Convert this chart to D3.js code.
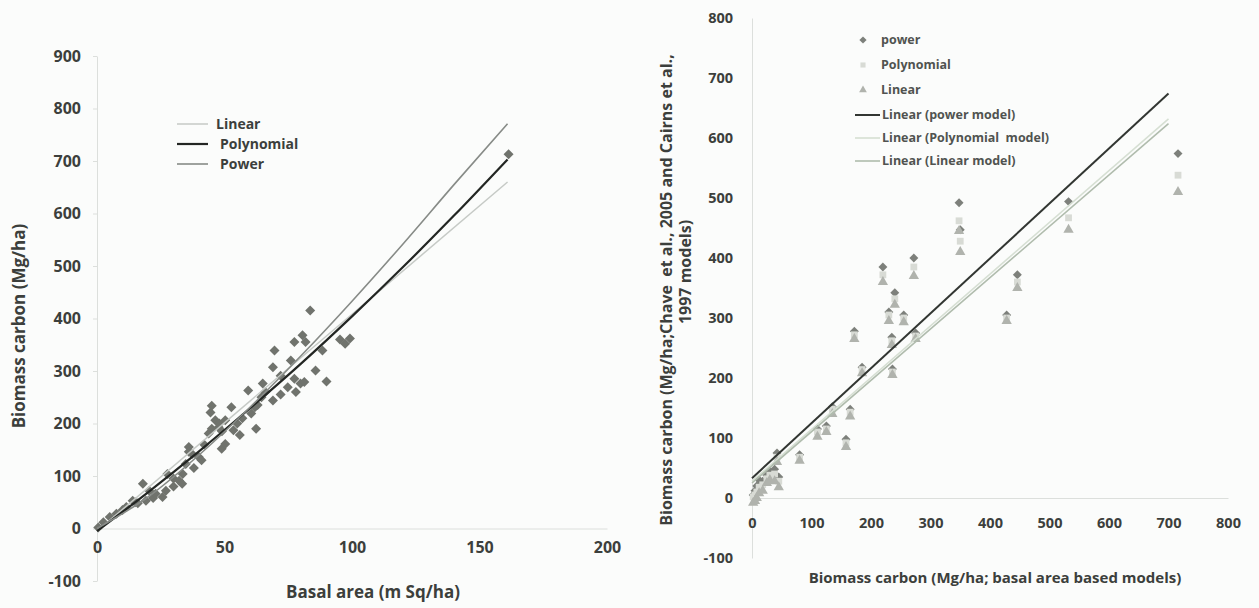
<!DOCTYPE html>
<html>
<head>
<meta charset="utf-8">
<script src="https://cdn.jsdelivr.net/npm/d3@7"></script>
<style>
  body { margin: 0; background: #fbfcfb; }
  text { font-family: "Open Sans", sans-serif; font-weight: 700; fill: #3c3f3c; white-space: pre; }
  .axis path, .axis line { stroke: #dcdfdc; }
</style>
</head>
<body>
<svg id="chart" width="1259" height="608"></svg>
<script>
// left panel: basal area vs biomass carbon
var basalArea = [0.5, 2.5, 5, 7.6, 10, 11.5, 14, 15, 16, 18, 19.2, 20.5, 22, 23, 25.7, 27, 27.6, 30, 30, 32.2,
    33.4, 33.6, 34.8, 36, 36, 37.3, 38, 39.9, 41, 42, 43.8, 44.5, 45, 45, 46.4, 47.7, 48, 48.9, 49, 50.3,
    50.3, 52.7, 53.5, 55, 56, 57, 59.3, 60.5, 61.9, 62.4, 63, 64.5, 65, 66, 69, 69, 69.6, 72, 72, 74.8,
    76, 77.4, 77.4, 78, 79.8, 80.6, 81.3, 81.8, 83.6, 85.7, 88.4, 90, 95.3, 97.3, 99.2, 161.4];
var biomassC = [2, 12, 22, 28, 35, 41, 53, 50, 48, 85, 53, 72, 58, 66, 60, 72, 104, 80, 95, 91,
    85, 104, 123, 155, 146, 142, 115, 136, 130, 160, 181, 221, 190, 234, 206, 193, 200, 152, 185, 206,
    161, 231, 187, 200, 178, 210, 263, 219, 231, 190, 235, 250, 276, 260, 244, 307, 339, 291, 255, 269,
    320, 285, 355, 260, 276, 368, 279, 355, 415, 301, 339, 280, 360, 352, 362, 713];

// fitted curves
var fitX = [0, 20, 40, 60, 80, 100, 120, 140, 161];
var polyFit = [-5, 69, 147, 229, 314, 404, 498, 596, 703];
var powerFit = [0, 60, 140, 231, 329, 433, 542, 655, 771];
var linearFitX = [0, 161];
var linearFit = [-5, 660];

var leftYTicks = [-100, 0, 100, 200, 300, 400, 500, 600, 700, 800, 900];
var leftXTicks = [0, 50, 100, 150, 200];
var leftLegend = ["Linear", "Polynomial", "Power"];

// right panel: model comparison
var basedModels = [2, 5, 8, 12, 18, 25, 30, 38, 42, 45, 80, 110, 125, 135, 158, 165, 172, 185, 220, 230,
    235, 236, 240, 255, 272, 275, 348, 350, 428, 446, 532, 716];
var powerC = [5, 12, 20, 30, 28, 38, 45, 48, 75, 35, 72, 115, 120, 152, 98, 148, 278, 218, 385, 310,
    268, 215, 342, 305, 400, 275, 492, 447, 305, 372, 494, 574];
var polyC = [2, 5, 10, 18, 22, 32, 38, 40, 68, 28, 68, 110, 115, 148, 92, 143, 272, 214, 372, 305,
    262, 210, 332, 300, 385, 270, 462, 428, 300, 360, 467, 538];
var linearC = [-8, -5, 0, 8, 12, 25, 30, 28, 60, 18, 62, 102, 110, 140, 85, 136, 265, 208, 360, 295,
    255, 205, 322, 293, 370, 265, 445, 410, 295, 350, 447, 510];

var trendX = [0, 700];
var powerTrend = [33, 674];
var polyTrend = [28, 632];
var linearTrend = [25, 624];

var rightYTicks = [-100, 0, 100, 200, 300, 400, 500, 600, 700, 800];
var rightXTicks = [0, 100, 200, 300, 400, 500, 600, 700, 800];
var rightLegend = ["power", "Polynomial", "Linear", "Linear (power model)", "Linear (Polynomial  model)", "Linear (Linear model)"];

var svg = d3.select("#chart");
var plain = function (d) { return String(d); };

// ---------- left chart ----------
var x1 = d3.scaleLinear().domain([0, 200]).range([97, 607]);
var y1 = d3.scaleLinear().domain([-100, 900]).range([581, 56]);

svg.append("g")
    .attr("class", "axis")
    .attr("transform", "translate(" + x1(0) + ",0)")
    .call(d3.axisLeft(y1).tickValues(leftYTicks).tickFormat(plain).tickSizeInner(4).tickSizeOuter(0).tickPadding(12))
    .selectAll("text").style("font-size", "16px");

svg.append("g")
    .attr("class", "axis")
    .attr("transform", "translate(0," + y1(0) + ")")
    .call(d3.axisBottom(x1).tickValues(leftXTicks).tickFormat(plain).tickSize(0).tickPadding(13))
    .selectAll("text").style("font-size", "16px");

var sym1 = d3.symbol().type(d3.symbolSquare).size(50);
svg.append("g").selectAll("path")
    .data(basalArea)
    .enter().append("path")
    .attr("d", sym1)
    .attr("transform", function (d, i) { return "translate(" + x1(d) + "," + y1(biomassC[i]) + ") rotate(45)"; })
    .attr("fill", "#70736d");

var leftColors = ["#c6cac6", "#232623", "#878b87"];
var leftWidths = [1.5, 2.2, 1.6];
var leftCurves = [
    linearFitX.map(function (d, i) { return [d, linearFit[i]]; }),
    fitX.map(function (d, i) { return [d, polyFit[i]]; }),
    fitX.map(function (d, i) { return [d, powerFit[i]]; })
];
var line1 = d3.line()
    .x(function (d) { return x1(d[0]); })
    .y(function (d) { return y1(d[1]); })
    .curve(d3.curveMonotoneX);

svg.append("g").selectAll("path")
    .data(leftCurves)
    .enter().append("path")
    .attr("d", line1)
    .attr("fill", "none")
    .attr("stroke", function (d, i) { return leftColors[i]; })
    .attr("stroke-width", function (d, i) { return leftWidths[i]; });

var lg1 = svg.append("g").selectAll("g")
    .data(leftLegend)
    .enter().append("g")
    .attr("transform", function (d, i) { return "translate(177," + (124 + i * 20) + ")"; });
lg1.append("line")
    .attr("x1", 0).attr("x2", 31)
    .attr("stroke", function (d, i) { return leftColors[i]; })
    .attr("stroke-width", function (d, i) { return leftWidths[i]; });
lg1.append("text")
    .attr("x", function (d, i) { return i == 0 ? 39 : 43; })
    .attr("dy", "0.35em")
    .style("font-size", "14px")
    .text(function (d) { return d; });

svg.append("text")
    .attr("transform", "translate(19,326) rotate(-90)")
    .attr("text-anchor", "middle")
    .attr("dy", "0.35em")
    .style("font-size", "17px")
    .text("Biomass carbon (Mg/ha)");

svg.append("text")
    .attr("x", 373).attr("y", 592)
    .attr("text-anchor", "middle")
    .attr("dy", "0.35em")
    .style("font-size", "17px")
    .text("Basal area (m Sq/ha)");

// ---------- right chart ----------
var x2 = d3.scaleLinear().domain([0, 800]).range([752, 1228]);
var y2 = d3.scaleLinear().domain([-100, 800]).range([558, 18]);

svg.append("g")
    .attr("class", "axis")
    .attr("transform", "translate(" + x2(0) + ",0)")
    .call(d3.axisLeft(y2).tickValues(rightYTicks).tickFormat(plain).tickSize(0).tickPadding(19))
    .selectAll("text").style("font-size", "14.5px");

svg.append("g")
    .attr("class", "axis")
    .attr("transform", "translate(0," + y2(0) + ")")
    .call(d3.axisBottom(x2).tickValues(rightXTicks).tickFormat(plain).tickSize(0).tickPadding(20))
    .selectAll("text").style("font-size", "14.5px");

var trendColors = ["#323632", "#d6dfd3", "#b0bcad"];
var trendWidths = [2, 1.6, 1.6];
var trends = [powerTrend, polyTrend, linearTrend];

var series = [
    { vals: powerC, sym: d3.symbol().type(d3.symbolSquare).size(40), rot: 45, fill: "#7d807b" },
    { vals: polyC, sym: d3.symbol().type(d3.symbolSquare).size(46), rot: 0, fill: "#d8dbd5" },
    { vals: linearC, sym: d3.symbol().type(d3.symbolTriangle).size(46), rot: 0, fill: "#b0b3ad" }
];

series.forEach(function (s) {
    svg.append("g").selectAll("path")
        .data(basedModels)
        .enter().append("path")
        .attr("d", s.sym)
        .attr("transform", function (d, i) { return "translate(" + x2(d) + "," + y2(s.vals[i]) + ") rotate(" + s.rot + ")"; })
        .attr("fill", s.fill);
});

svg.append("g").selectAll("line")
    .data(trends)
    .enter().append("line")
    .attr("x1", x2(trendX[0]))
    .attr("x2", x2(trendX[1]))
    .attr("y1", function (d) { return y2(d[0]); })
    .attr("y2", function (d) { return y2(d[1]); })
    .attr("stroke", function (d, i) { return trendColors[i]; })
    .attr("stroke-width", function (d, i) { return trendWidths[i]; });

var legendY = [40, 65, 90, 115, 138, 161];
var lg2 = svg.append("g").selectAll("g")
    .data(rightLegend)
    .enter().append("g")
    .attr("transform", function (d, i) { return "translate(863," + legendY[i] + ")"; });
lg2.filter(function (d, i) { return i < 3; })
    .append("path")
    .attr("d", function (d, i) { return d3.symbol().type(i == 2 ? d3.symbolTriangle : d3.symbolSquare).size(26)(); })
    .attr("transform", function (d, i) { return i == 0 ? "rotate(45)" : null; })
    .attr("fill", function (d, i) { return series[i].fill; });
lg2.filter(function (d, i) { return i >= 3; })
    .append("line")
    .attr("x1", -8).attr("x2", 17)
    .attr("stroke", function (d, i) { return trendColors[i]; })
    .attr("stroke-width", function (d, i) { return trendWidths[i]; });
lg2.append("text")
    .attr("x", function (d, i) { return i < 3 ? 18 : 19; })
    .attr("dy", "0.35em")
    .style("font-size", "12.5px")
    .style("fill", "#505350")
    .text(function (d) { return d; });

svg.append("text")
    .attr("transform", "translate(666,290) rotate(-90)")
    .attr("text-anchor", "middle")
    .attr("dy", "0.35em")
    .style("font-size", "16px")
    .text("Biomass carbon (Mg/ha;Chave  et al., 2005 and Cairns et al.,");
svg.append("text")
    .attr("transform", "translate(685,272) rotate(-90)")
    .attr("text-anchor", "middle")
    .attr("dy", "0.35em")
    .style("font-size", "16px")
    .text("1997 models)");

svg.append("text")
    .attr("x", 995).attr("y", 578)
    .attr("text-anchor", "middle")
    .attr("dy", "0.35em")
    .style("font-size", "15px")
    .text("Biomass carbon (Mg/ha; basal area based models)");
</script>
</body>
</html>
